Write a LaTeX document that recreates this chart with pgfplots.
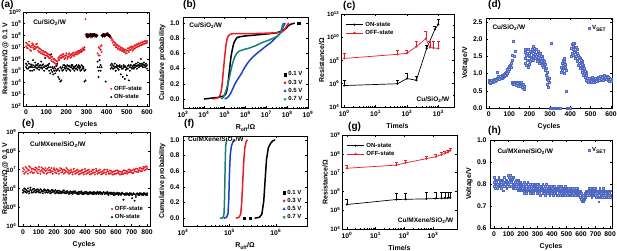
\documentclass[border=0pt]{standalone}
\usepackage{fontspec}
\setmainfont{Liberation Sans}
\usepackage{pgfplots}
\usepackage{pgfplotstable}
\pgfplotsset{compat=1.18}
\definecolor{myred}{RGB}{232,28,36}
\definecolor{myblue}{RGB}{30,64,200}
\definecolor{myteal}{RGB}{22,128,118}
\definecolor{vfill}{RGB}{160,178,228}
\definecolor{vdraw}{RGB}{80,105,195}
\newcommand{\tp}[1]{10\textsuperscript{#1}}
\tikzset{ann/.style={font=\fontsize{6.5}{7}\selectfont\bfseries, inner sep=0pt}}
\pgfplotsset{
  panel/.style={
    scale only axis, anchor=south west,
    axis line style={line width=0.7pt},
    tick align=inside,
    major tick length=2.2pt, minor tick length=1.2pt,
    tick style={black, line width=0.5pt},
    tick label style={font=\fontsize{6.8}{7}\selectfont\bfseries},
    label style={font=\fontsize{7}{8}\selectfont\bfseries},
    ylabel style={inner sep=1pt},
    /pgf/number format/assume math mode=true,
    legend style={draw=none, fill=none, font=\fontsize{6}{7}\selectfont\bfseries, inner sep=1pt, row sep=-1.5pt},
    legend cell align=left,
  },
  logy/.style={yticklabel style={font=\fontsize{6.2}{7}\selectfont\bfseries, inner sep=1.5pt}},
}
% (a) Cu/SiO2/W resistance vs cycles
\pgfplotstableread{
c off1 off2 on1 on2
0 1.2e7 2.5e7 2e5 4e5
5 2e7 9e6 3e5 1.5e5
10 8e6 1.5e7 1.5e5 6e5
15 1.5e7 3e7 4e5 2e5
20 6e6 1.2e7 2e5 1e5
25 1e7 5e6 2.5e5 3.5e5
30 2.2e7 1.4e7 1e5 2e5
35 9e6 1.8e7 3e5 8e5
40 1.3e7 7e6 2e5 1.2e5
45 7e6 1.1e7 5e5 2.5e5
50 1.8e7 9e6 1.8e5 3e5
55 1.1e7 2e7 3e5 1.5e5
60 5e6 1e7 2e5 4e5
65 8e6 4e6 1.2e5 2.5e5
70 4e6 7e6 3e5 1.8e5
75 6e6 3e6 2e5 6e5
80 3e6 5e6 1.5e5 3e5
85 5e6 2.5e6 3.5e5 2e5
90 2.5e6 4e6 2e5 1e5
95 4e6 2e6 1.2e6 2.5e5
100 2e6 3.5e6 2.5e5 1.5e5
105 3e6 1.8e6 1.5e5 3e5
110 1.5e6 2.5e6 3e5 2e5
115 2.5e6 1.2e6 1e5 4e5
120 1.2e6 2e6 2e5 6e4
125 8e5 1.5e6 1.2e5 2.5e6
130 1.5e6 6e5 8e4 2e5
135 6e5 1e6 1.5e5 5e4
140 1e6 5e5 2e5 1e5
145 4e5 8e5 6e4 1.5e5
150 7e5 3e5 1e5 2.5e5
155 3e5 6e5 4e5 1.2e5
160 8e5 1.2e6 1.5e5 3e4
165 1.5e6 8e5 2e4 1e5
170 1.2e6 2e6 1.2e4 2e5
175 2e6 1.2e6 1.5e5 1.5e4
180 1.5e6 2.5e6 2e5 1e5
185 2.5e6 1.5e6 1.2e5 3e5
190 1.8e6 1e6 3e5 1.8e5
195 1.2e6 2e6 1.5e5 2.5e5
200 2e6 3e6 2e5 1e5
205 1.5e6 1e6 3e5 1.5e5
210 2.5e6 1.5e6 1.5e5 2.5e5
215 1.8e6 3e6 2.5e5 1.2e5
220 2.2e6 1.2e6 1e5 2e5
225 1.5e6 2.5e6 2e5 3e5
230 3e6 2e6 3e5 1.5e5
235 2e6 3.5e6 1.5e5 2.2e5
240 2.5e6 1.8e6 2e5 1e5
245 3.5e6 2.5e6 2.5e5 1.5e5
250 2.5e6 4e6 1.5e5 3e5
255 4e6 2.5e6 2e5 1.2e5
260 3e6 5e6 3e5 2e5
265 5e6 3.5e6 1.5e5 2.5e5
270 4e6 6e6 2e5 1e5
275 6e6 4e6 1.2e5 3e5
280 5e6 8e6 2.5e5 1.5e5
285 8e6 6e6 1.5e5 2e5
290 6e6 1e7 1.2e4 1e5
295 2.5e9 1.2e8 1.5e4 1.2e5
300 1e8 8e7 9e7 1.3e8
305 8e7 1.4e8 1.1e8 7e7
310 1.2e8 9e7 8e7 1.2e8
315 9e7 1.1e8 1.2e8 9e7
320 1.1e8 7e7 1e8 1.4e8
325 7e7 1.3e8 9e7 1.1e8
330 1.3e8 1e8 1.2e8 8e7
335 9e7 1.2e8 1e8 1.3e8
340 1e8 8e7 1.3e8 1e8
345 8e7 1.1e8 9e7 1.2e8
350 1.2e8 9e7 1.1e8 8e7
355 3e6 1e8 2e5 6e5
360 1e7 2e6 1e5 3e4
365 2e6 8e6 8e5 2e5
370 6e6 1.2e7 3e5 1e5
375 1.5e7 4e6 1e8 2e5
380 9e7 1.2e8 1.2e8 8e7
385 1.1e8 1.4e8 1e8 1.3e8
390 8e7 1.3e8 1.2e8 9e7
395 1.3e8 1e8 1.2e4 1e8
400 1.5e8 1.2e8 1.3e8 1.1e8
405 1.2e8 1.6e8 1e8 1.4e8
410 9e7 1.2e8 1.2e8 9e7
415 1.1e8 7e7 8e7 1e8
420 6e7 8e7 3e5 1.5e5
425 4e7 6e7 2e5 4e5
430 2.5e7 4e7 3e5 1.5e5
435 3e7 1.5e7 1.5e5 2.5e5
440 1.5e7 2.5e7 4e5 2e5
445 2e7 1e7 2e5 1e5
450 1e7 1.5e7 3e5 2e5
455 1.5e7 7e6 1.5e5 2.5e5
460 8e6 1.2e7 2.5e5 1.2e5
465 1.2e7 6e6 2e5 3e5
470 6e6 9e6 5e4 2e5
475 9e6 5e6 2.5e5 1.5e5
480 5e6 7e6 1.5e5 3e4
485 7e6 4e6 3e5 2e5
490 4e6 6e6 2e4 2.5e5
495 6e6 3e6 2e5 1.2e5
500 3e6 5e6 1.5e5 4e4
505 5e6 8e6 2.5e5 1.5e5
510 8e6 4e6 1.5e4 3e5
515 6e6 1e7 2e5 1e5
520 1e7 6e6 3e5 2e5
525 7e6 1.2e7 1.5e5 6e5
530 5e6 9e6 2.5e5 2e5
535 1.2e7 7e6 3e5 1.5e5
540 8e6 1.5e7 2e5 3e5
545 1.5e7 1e7 4e5 2.5e5
550 1e7 1.8e7 2.5e5 1.5e5
555 1.8e7 1.2e7 3e5 5e5
560 1.2e7 2.2e7 2e5 3e5
565 2e7 1.4e7 4e5 2.5e5
570 1.5e7 2.5e7 3e5 1e6
575 2.5e7 1.6e7 2.5e5 4e5
580 1.8e7 3e7 3.5e5 2e5
585 3e7 2e7 3e5 5e5
590 2e7 3.5e7 2e5 3e5
595 3e7 2.2e7 4e5 2.5e5
600 2.5e7 3.5e7 3e5 1.5e5
}\tabA
% (b) cumulative probability, Cu/SiO2/W
\pgfplotstableread{
r p
1.0e4 0.00
1.5e4 0.005
2.0e4 0.01
3.0e4 0.015
4.5e4 0.02
6.5e4 0.03
9.0e4 0.04
1.1e5 0.06
1.25e5 0.10
1.4e5 0.18
1.55e5 0.28
1.7e5 0.38
1.85e5 0.47
2.0e5 0.55
2.25e5 0.63
2.5e5 0.69
2.8e5 0.74
3.3e5 0.78
4.0e5 0.81
5.5e5 0.82
1.0e6 0.83
2.5e6 0.84
6e6 0.85
1.5e7 0.86
3e7 0.87
5e7 0.89
7e7 0.91
9e7 0.93
1.1e8 0.96
1.4e8 0.98
1.8e8 0.99
2.3e8 1.00
}\tabBa
\pgfplotstableread{
r p
2.8e4 0.00
4.0e4 0.01
5.0e4 0.02
6.0e4 0.05
6.8e4 0.10
7.5e4 0.18
8.2e4 0.30
9.0e4 0.42
9.8e4 0.53
1.07e5 0.63
1.17e5 0.72
1.3e5 0.79
1.5e5 0.83
1.8e5 0.85
2.5e5 0.86
5e5 0.86
2e6 0.86
8e6 0.865
2.5e7 0.87
5.5e7 0.88
7.5e7 0.91
9e7 0.95
1.05e8 0.98
1.2e8 1.00
}\tabBb
\pgfplotstableread{
r p
1.0e5 0.00
1.2e5 0.01
1.5e5 0.03
1.9e5 0.07
2.4e5 0.13
3.0e5 0.19
3.8e5 0.24
5.0e5 0.29
6.5e5 0.34
8.5e5 0.40
1.1e6 0.45
1.5e6 0.50
2.2e6 0.55
3.5e6 0.60
6e6 0.65
1e7 0.70
1.6e7 0.74
2.5e7 0.79
3.5e7 0.83
4.8e7 0.87
6e7 0.93
7e7 0.97
8e7 1.00
}\tabBc
\pgfplotstableread{
r p
7e4 0.00
8.5e4 0.02
1.0e5 0.06
1.2e5 0.12
1.4e5 0.19
1.65e5 0.27
1.9e5 0.35
2.2e5 0.43
2.6e5 0.50
3.1e5 0.56
3.8e5 0.60
5e5 0.63
8e5 0.65
1.5e6 0.67
3e6 0.70
6e6 0.74
1.2e7 0.77
2.2e7 0.80
3.5e7 0.83
4.8e7 0.87
5.5e7 0.93
6e7 0.97
6.5e7 1.00
}\tabBd
% (c) retention, Cu/SiO2/W
\pgfplotstableread{
t r e
1 7e5 1.3e6
50 1e6 1e6
100 2.8e6 5e6
200 2e6 2e6
425 1.1e9 1.1e9
780 4.8e10 4.5e10
1000 1.3e11 2.3e11
}\tabCon
\pgfplotstableread{
t r e
1 1.5e8 2.7e8
50 3.4e8 4.6e8
100 4.2e8 3.8e8
200 1.6e9 2.9e9
400 7.6e9 2.4e10
540 1.3e9 3.2e9
700 1.2e9 3.3e9
1000 1.1e9 3.4e9
}\tabCoff
% (d) VSET Cu/SiO2/W
\pgfplotstableread{
c v1 v2
0 0.75 0.80
4 0.72 0.78
8 0.78 0.74
12 0.76 0.82
16 0.80 0.75
20 0.74 0.79
24 0.78 0.83
28 0.82 0.77
32 0.79 0.85
36 0.84 0.80
40 0.88 1.03
44 0.83 0.87
48 0.86 0.92
52 0.90 0.84
56 0.87 0.93
60 0.92 0.88
64 0.95 0.86
68 0.89 0.97
72 0.94 0.91
76 0.98 0.93
80 1.00 0.95
84 0.96 1.05
88 1.08 1.00
92 1.05 1.12
96 1.15 1.08
100 1.12 1.22
104 1.25 1.18
108 1.30 1.20
112 0.75 1.40
116 1.55 0.72
120 1.95 0.70
124 1.50 0.68
128 0.74 1.65
132 0.70 0.66
136 0.72 0.75
140 0.68 0.73
144 0.71 0.65
148 0.74 0.69
152 0.66 0.72
156 0.70 0.64
160 0.63 0.75
164 0.68 0.60
168 0.58 0.70
172 0.65 0.55
176 1.30 1.62
180 1.45 1.70
184 1.25 1.55
188 1.60 1.38
192 1.72 1.20
196 1.40 1.55
200 1.50 1.28
204 1.35 1.65
208 1.62 1.42
212 1.48 1.70
216 1.80 1.52
220 1.55 1.38
224 1.65 1.75
228 1.45 1.58
232 1.70 1.50
236 1.58 1.35
240 1.62 1.48
244 1.40 1.66
248 1.55 1.30
252 1.45 1.60
256 1.35 1.52
260 1.50 1.25
264 1.28 1.45
268 1.40 1.18
272 1.20 1.35
276 1.10 1.28
280 0.95 1.15
284 0.85 1.05
288 0.70 0.90
292 0.60 0.80
296 0.75 0.88
300 0.00 0.00
304 1.90 0.00
308 0.00 0.00
312 0.00 0.00
316 0.00 0.00
320 0.00 0.00
324 0.00 0.00
328 0.00 0.00
332 0.00 0.00
336 0.00 0.00
340 0.00 0.00
344 0.00 0.00
348 0.00 0.00
352 0.00 0.00
356 1.05 1.20
360 1.30 1.10
364 1.25 1.40
368 1.15 1.35
372 1.45 1.00
376 1.28 1.20
380 1.10 0.50
384 0.00 0.00
388 0.00 0.00
392 0.00 0.00
396 0.00 0.00
400 0.00 0.00
404 1.75 1.50
408 1.85 1.60
412 1.70 1.90
416 1.55 1.80
420 1.88 1.62
424 1.65 1.45
428 1.50 1.78
432 1.72 1.35
436 1.40 1.60
440 1.55 1.25
444 1.30 1.48
448 1.45 1.15
452 1.20 1.38
456 1.35 1.05
460 1.10 1.28
464 1.25 0.95
468 1.00 1.15
472 0.90 1.08
476 1.05 0.82
480 0.85 0.95
484 0.78 0.88
488 0.82 0.75
492 0.76 0.86
496 0.88 0.80
500 0.80 0.75
504 0.85 0.78
508 0.78 0.90
512 0.82 0.76
516 0.75 0.84
520 0.86 0.79
524 0.80 0.88
528 0.84 0.77
532 0.78 0.85
536 0.90 0.81
540 0.82 0.87
544 0.87 0.80
548 0.80 0.92
552 0.92 0.84
556 0.85 0.90
560 0.88 0.82
564 0.83 0.95
568 0.95 0.86
572 0.86 0.90
576 0.90 0.84
580 0.84 0.92
584 0.88 0.80
588 0.82 0.90
592 0.86 0.78
596 0.80 0.84
600 0.83 0.79
}\tabD
% (e) Cu/MXene/SiO2/W resistance vs cycles
\pgfplotstableread{
c off1 off2 on1 on2
0 8e6 1.2e7 8e5 6e5
8 1e7 6e6 7e5 1e6
16 7e6 1.4e7 9e5 6.5e5
24 1.2e7 8e6 6e5 8e5
32 6e6 1e7 1e6 7e5
40 9e6 1.5e7 7e5 5.5e5
48 1.3e7 7e6 8.5e5 1.1e6
56 8e6 1.1e7 6e5 7.5e5
64 1.1e7 6.5e6 9e5 6e5
72 7e6 1e7 7e5 9.5e5
80 9.5e6 1.3e7 8e5 6e5
88 1.2e7 8e6 6.5e5 8.5e5
96 6.5e6 1e7 9e5 7e5
104 1e7 1.4e7 7.5e5 6e5
112 8e6 6e6 6e5 9e5
120 1.3e7 9e6 8e5 7e5
128 7.5e6 1.1e7 7e5 5.5e5
136 1e7 6.5e6 9e5 7.5e5
144 8.5e6 1.2e7 6e5 8e5
152 6e6 9e6 7.5e5 6.5e5
160 1.1e7 7e6 8.5e5 6e5
168 9e6 1.3e7 6.5e5 7.5e5
176 7e6 9.5e6 7e5 5.5e5
184 1.2e7 8e6 6e5 8e5
192 8e6 6e6 8e5 6.5e5
200 1e7 1.2e7 6.5e5 7e5
208 7e6 9e6 5.5e5 8e5
216 1.1e7 6.5e6 7e5 6e5
224 8e6 1e7 6e5 7.5e5
232 6e6 8.5e6 7.5e5 5.5e5
240 9e6 1.2e7 6e5 7e5
248 1.1e7 7e6 5.5e5 6.5e5
256 7.5e6 9.5e6 7e5 6e5
264 6e6 1e7 6e5 8e5
272 9e6 7e6 6.5e5 5.5e5
280 1.2e7 8e6 5.5e5 7e5
288 7e6 1e7 7e5 6e5
296 8.5e6 6e6 6e5 5e5
304 6.5e6 9e6 5.5e5 7e5
312 1e7 7.5e6 6.5e5 5.5e5
320 7e6 5.5e6 5e5 6.5e5
328 8e6 1.1e7 6e5 7e5
336 6e6 8e6 7e5 5.5e5
344 9e6 6.5e6 5.5e5 6e5
352 7e6 1e7 6e5 5e5
360 5.5e6 8e6 5e5 6.5e5
368 8.5e6 6e6 6.5e5 5.5e5
376 6.5e6 9e6 5.5e5 7e5
384 1e7 7e6 6e5 5e5
392 7e6 5.5e6 5e5 6e5
400 8e6 1.1e7 6.5e5 5.5e5
408 6e6 8.5e6 5.5e5 6.5e5
416 9e6 6.5e6 6e5 5e5
424 7e6 1e7 5e5 6e5
432 5.5e6 8e6 6.5e5 5.5e5
440 8e6 6e6 5.5e5 6e5
448 6.5e6 9.5e6 6e5 5e5
456 1e7 7e6 5e5 6.5e5
464 7e6 5.5e6 5.5e5 6e5
472 8.5e6 1.1e7 6e5 5e5
480 6e6 8e6 6.5e5 5.5e5
488 9e6 6.5e6 5e5 6e5
496 7e6 1e7 5.5e5 6.5e5
504 5.5e6 7.5e6 6e5 5e5
512 8e6 6e6 5e5 5.5e5
520 6.5e6 9e6 6.5e5 6e5
528 1e7 7e6 5.5e5 5e5
536 7e6 5.5e6 6e5 5.5e5
544 8.5e6 1e7 5e5 6.5e5
552 6e6 7.5e6 5.5e5 4.5e5
560 9e6 6e6 6e5 5.5e5
568 6.5e6 8.5e6 5e5 6e5
576 7.5e6 5.5e6 5.5e5 5e5
584 5.5e6 8e6 6e5 4.5e5
592 8e6 6e6 4.5e5 5.5e5
600 6e6 9e6 5.5e5 5e5
608 9e6 6.5e6 5e5 6e5
616 6.5e6 8e6 4.5e5 5.5e5
624 8e6 5.5e6 5.5e5 5e5
632 5.5e6 7.5e6 5e5 4.5e5
640 7.5e6 6e6 6e5 5.5e5
648 6e6 9e6 2.5e5 5e5
656 9e6 6.5e6 5e5 4.5e5
664 6.5e6 8.5e6 4.5e5 5.5e5
672 8e6 6e6 5.5e5 5e5
680 7e6 1e7 5e5 4.5e5
688 1e7 7.5e6 4.5e5 5.5e5
696 7.5e6 9e6 5.5e5 5e5
704 9e6 6.5e6 3e5 4.5e5
712 6.5e6 1e7 5e5 5.5e5
720 1e7 8e6 2.2e5 5e5
728 8e6 1.1e7 4.5e5 3.5e5
736 1.1e7 7.5e6 5.5e5 5e5
744 7.5e6 9.5e6 5e5 4.5e5
752 9e6 1.2e7 4.5e5 5.5e5
760 1.2e7 8e6 5.5e5 5e5
768 8.5e6 1.1e7 5e5 4.5e5
776 1.1e7 1.4e7 4.5e5 5.5e5
784 1.3e7 9e6 5.5e5 5e5
792 1e7 1.5e7 5e5 4.5e5
800 1.4e7 1.1e7 4.5e5 5.5e5
}\tabE
% (f) cumulative probability, Cu/MXene/SiO2/W
\pgfplotstableread{
r p
3.5e5 0.00
4.4e5 0.01
5.0e5 0.05
5.5e5 0.22
5.9e5 0.50
6.3e5 0.75
6.9e5 0.90
7.8e5 0.96
8.7e5 0.99
9.7e5 1.00
}\tabFa
\pgfplotstableread{
r p
1.38e5 0.00
1.6e5 0.01
1.75e5 0.05
1.85e5 0.22
1.95e5 0.50
2.05e5 0.75
2.15e5 0.90
2.3e5 0.98
2.45e5 1.00
}\tabFb
\pgfplotstableread{
r p
7.6e4 0.00
8.6e4 0.01
9.3e4 0.05
9.7e4 0.25
1.0e5 0.55
1.04e5 0.80
1.1e5 0.92
1.2e5 0.98
1.3e5 1.00
}\tabFc
\pgfplotstableread{
r p
6.2e4 0.00
7.0e4 0.00
7.5e4 0.02
7.7e4 0.08
7.85e4 0.25
8.0e4 0.50
8.15e4 0.75
8.3e4 0.92
8.6e4 0.98
8.9e4 1.00
}\tabFd
% (g) retention, Cu/MXene/SiO2/W
\pgfplotstableread{
t r e
1 2e5 1.6e5
53 3.7e5 4.6e5
112 3.8e5 4.5e5
590 4e5 4.5e5
1260 4.2e5 4.5e5
2000 4.3e5 4.7e5
2600 4.4e5 4.8e5
3300 4.5e5 4.8e5
4000 4.6e5 4.8e5
}\tabGon
\pgfplotstableread{
t r e
1 1.7e7 0.8e7
53 2.5e7 1e7
112 3.3e7 1.2e7
590 5.5e7 2e7
1260 7e7 2.5e7
2000 9e7 3e7
2600 1.05e8 3.5e7
3300 1.2e8 4e7
4000 1.5e8 5e7
}\tabGoff
% (h) VSET Cu/MXene/SiO2/W
\pgfplotstableread{
c v1 v2 v3
0 0.81 0.79 0.83
8 0.80 0.82 0.78
16 0.79 0.81 0.80
24 0.82 0.78 0.80
32 0.80 0.83 0.79
40 0.81 0.79 0.82
48 0.78 0.81 0.80
56 0.82 0.80 0.79
64 0.80 0.77 0.81
72 0.81 0.83 0.79
80 0.79 0.81 0.82
88 0.82 0.80 0.78
96 0.80 0.84 0.81
104 0.83 0.79 0.81
112 0.81 0.82 0.84
120 0.79 0.81 0.83
128 0.82 0.80 0.78
136 0.80 0.83 0.79
144 0.81 0.78 0.80
152 0.79 0.82 0.80
160 0.80 0.78 0.81
168 0.82 0.79 0.77
176 0.78 0.80 0.81
184 0.79 0.81 0.77
192 0.80 0.78 0.79
200 0.77 0.80 0.79
208 0.79 0.76 0.81
216 0.78 0.80 0.77
224 0.80 0.78 0.76
232 0.77 0.79 0.81
240 0.79 0.77 0.78
248 0.78 0.80 0.76
256 0.76 0.78 0.79
264 0.79 0.77 0.80
272 0.78 0.80 0.76
280 0.80 0.77 0.79
288 0.77 0.79 0.78
296 0.79 0.76 0.80
304 0.78 0.80 0.77
312 0.76 0.78 0.79
320 0.79 0.77 0.75
328 0.77 0.79 0.78
336 0.78 0.76 0.80
344 0.76 0.78 0.77
352 0.79 0.77 0.75
360 0.77 0.80 0.78
368 0.78 0.76 0.77
376 0.76 0.79 0.78
384 0.78 0.77 0.75
392 0.77 0.79 0.76
400 0.79 0.76 0.78
408 0.77 0.78 0.75
416 0.76 0.79 0.77
424 0.78 0.76 0.78
432 0.77 0.78 0.75
440 0.75 0.77 0.79
448 0.78 0.76 0.77
456 0.77 0.78 0.75
464 0.76 0.79 0.77
472 0.78 0.75 0.77
480 0.77 0.78 0.76
488 0.75 0.77 0.79
496 0.78 0.76 0.77
504 0.76 0.78 0.75
512 0.77 0.75 0.78
520 0.78 0.76 0.77
528 0.76 0.78 0.75
536 0.77 0.75 0.78
544 0.75 0.77 0.76
552 0.78 0.76 0.77
560 0.76 0.77 0.75
568 0.77 0.75 0.78
576 0.76 0.78 0.76
584 0.75 0.77 0.76
592 0.76 0.74 0.77
600 0.74 0.76 0.73
608 0.73 0.75 0.72
616 0.74 0.72 0.75
624 0.75 0.73 0.76
632 0.76 0.74 0.77
640 0.77 0.75 0.76
648 0.75 0.77 0.76
656 0.76 0.78 0.75
664 0.77 0.75 0.78
672 0.76 0.78 0.74
680 0.77 0.75 0.76
688 0.75 0.77 0.78
696 0.78 0.76 0.75
704 0.76 0.74 0.77
712 0.77 0.75 0.76
720 0.74 0.77 0.72
728 0.76 0.74 0.78
736 0.75 0.77 0.76
744 0.77 0.75 0.74
752 0.76 0.78 0.75
760 0.74 0.76 0.77
768 0.77 0.75 0.76
776 0.75 0.77 0.74
784 0.76 0.74 0.77
792 0.77 0.75 0.76
800 0.75 0.77 0.74
}\tabH
\begin{document}
\begin{tikzpicture}
\path[use as bounding box] (0,0) rectangle (617pt,251pt);
\tikzset{pl/.style={font=\fontsize{10}{12}\selectfont\bfseries, anchor=base west, inner sep=0pt}}
\node[pl] at (1pt,243pt) {(a)};
\node[pl] at (183pt,243pt) {(b)};
\node[pl] at (343pt,242pt) {(c)};
\node[pl] at (488pt,243pt) {(d)};
\node[pl] at (22pt,124pt) {(e)};
\node[pl] at (184pt,124pt) {(f)};
\node[pl] at (348pt,121pt) {(g)};
\node[pl] at (488pt,117pt) {(h)};

% ---------- (a)
\begin{axis}[panel, logy, at={(23pt,145pt)}, width=126pt, height=94pt,
  xmin=-15, xmax=610, ymode=log, ymin=1e2, ymax=1e10,
  xtick={0,100,...,600}, minor x tick num=1,
  ytick={1e2,1e3,1e4,1e5,1e6,1e7,1e8,1e9,1e10},
  yticklabels={\tp{2},\tp{3},\tp{4},\tp{5},\tp{6},\tp{7},\tp{8},\tp{9},\tp{10}},
  yminorticks=false,
  xlabel={Cycles}, ylabel={Resistance/Ω @ 0.1 V},
  ylabel style={at={(axis description cs:-0.14,0.5)}, anchor=center},
  legend style={at={(0.97,0.03)}, anchor=south east}]
\addplot[only marks, mark=*, mark size=0.75pt, color=myred] table[x=c,y=off1]{\tabA};
\addlegendentry{OFF-state}
\addplot[only marks, mark=*, mark size=0.75pt, color=myred, forget plot] table[x=c,y=off2]{\tabA};
\addplot[only marks, mark=*, mark size=0.75pt, color=black] table[x=c,y=on1]{\tabA};
\addlegendentry{ON-state}
\addplot[only marks, mark=*, mark size=0.75pt, color=black, forget plot] table[x=c,y=on2]{\tabA};
\node[ann, anchor=north west] at (rel axis cs:0.08,0.92) {Cu/SiO\textsubscript{2}/W};
\end{axis}

% ---------- (b)
\begin{axis}[panel, at={(183pt,143pt)}, width=125pt, height=91pt,
  xmode=log, xmin=1e3, xmax=1e9, ymin=-0.118, ymax=1.079,
  xtick={1e3,1e4,1e5,1e6,1e7,1e8,1e9},
  xticklabels={\tp{3},\tp{4},\tp{5},\tp{6},\tp{7},\tp{8},\tp{9}},
  ytick={0,0.2,...,1.0},
  yticklabel style={/pgf/number format/.cd, fixed, fixed zerofill, precision=1},
  xlabel={R\textsubscript{off}/Ω}, ylabel={Cumulative probability},
  legend style={at={(0.98,0.03)}, anchor=south east}]
\addlegendimage{only marks, mark=square*, black, mark size=1.1pt}
\addlegendentry{0.1 V}
\addlegendimage{only marks, mark=*, myred, mark size=1.2pt}
\addlegendentry{0.3 V}
\addlegendimage{only marks, mark=triangle*, myblue, mark size=1.4pt}
\addlegendentry{0.5 V}
\addlegendimage{only marks, mark=triangle*, mark options={rotate=180}, myteal, mark size=1.4pt}
\addlegendentry{0.7 V}
\addplot[black, line width=1.5pt, forget plot] table[x=r,y=p]{\tabBa};
\addplot[only marks, mark=square*, mark size=1.1pt, black, forget plot] coordinates {(3.6e8,1.0)};
\addplot[myred, line width=1.5pt, forget plot] table[x=r,y=p]{\tabBb};
\addplot[myblue, line width=1.5pt, forget plot] table[x=r,y=p]{\tabBc};
\addplot[myteal, line width=1.5pt, forget plot] table[x=r,y=p]{\tabBd};
\node[ann, anchor=north west] at (rel axis cs:0.05,0.94) {Cu/SiO\textsubscript{2}/W};
\end{axis}

% ---------- (c)
\begin{axis}[panel, logy, at={(341pt,144pt)}, width=113pt, height=93pt,
  xmode=log, ymode=log, xmin=0.79, xmax=3162, ymin=1e4, ymax=1e12,
  xtick={1,10,100,1000}, xticklabels={\tp{0},\tp{1},\tp{2},\tp{3}},
  ytick={1e4,1e6,1e8,1e10,1e12}, yticklabels={\tp{4},\tp{6},\tp{8},\tp{10},\tp{12}},
  minor ytick={1e5,1e7,1e9,1e11},
  xlabel={Time/s}, ylabel={Resistance/Ω},
  legend style={at={(0.03,0.95)}, anchor=north west}]
\addplot[black, line width=0.7pt, mark=*, mark size=0.7pt,
  error bars/.cd, y dir=plus, y explicit, error bar style={line width=0.5pt},
  error mark options={rotate=90, mark size=1.5pt, line width=0.5pt}]
  table[x=t,y=r,y error=e]{\tabCon};
\addlegendentry{ON-state}
\addplot[myred, line width=0.7pt, mark=*, mark size=0.7pt,
  error bars/.cd, y dir=plus, y explicit, error bar style={line width=0.5pt},
  error mark options={rotate=90, mark size=1.5pt, line width=0.5pt}]
  table[x=t,y=r,y error=e]{\tabCoff};
\addlegendentry{OFF-state}
\node[ann, anchor=south east] at (rel axis cs:0.96,0.05) {Cu/SiO\textsubscript{2}/W};
\end{axis}

% ---------- (d)
\begin{axis}[panel, at={(486pt,143pt)}, width=126pt, height=90pt,
  xmin=-14, xmax=605, ymin=0, ymax=2.62,
  xtick={0,100,...,600}, minor x tick num=1,
  ytick={0,0.5,...,2.5},
  yticklabel style={/pgf/number format/.cd, fixed, fixed zerofill, precision=1},
  xlabel={Cycles}, ylabel={Voltage/V},
  legend style={at={(0.98,0.95)}, anchor=north east}]
\addplot[only marks, mark=square*, mark size=1.0pt, mark options={fill=vfill, draw=vdraw, line width=0.3pt}] table[x=c,y=v1]{\tabD};
\addlegendentry{V\textsubscript{SET}}
\addplot[only marks, mark=square*, mark size=1.0pt, mark options={fill=vfill, draw=vdraw, line width=0.3pt}, forget plot] table[x=c,y=v2]{\tabD};
\node[ann, anchor=north west] at (rel axis cs:0.05,0.93) {Cu/SiO\textsubscript{2}/W};
\end{axis}

% ---------- (e)
\begin{axis}[panel, logy, at={(18pt,25pt)}, width=132pt, height=94pt,
  xmin=-32, xmax=819, ymode=log, ymin=1e4, ymax=1e9,
  xtick={0,100,...,800}, minor x tick num=1,
  ytick={1e4,1e5,1e6,1e7,1e8,1e9},
  yticklabels={\tp{4},\tp{5},\tp{6},\tp{7},\tp{8},\tp{9}},
  yminorticks=false,
  xlabel={Cycles}, ylabel={Resistance/Ω @ 0.1 V},
  ylabel style={at={(axis description cs:-0.098,0.5)}, anchor=center},
  legend style={at={(0.97,0.03)}, anchor=south east}]
\addplot[only marks, mark=*, mark size=0.75pt, color=myred] table[x=c,y=off1]{\tabE};
\addlegendentry{OFF-state}
\addplot[only marks, mark=*, mark size=0.75pt, color=myred, forget plot] table[x=c,y=off2]{\tabE};
\addplot[only marks, mark=*, mark size=0.75pt, color=black] table[x=c,y=on1]{\tabE};
\addlegendentry{ON-state}
\addplot[only marks, mark=*, mark size=0.75pt, color=black, forget plot] table[x=c,y=on2]{\tabE};
\node[ann, anchor=north west] at (rel axis cs:0.09,0.9) {Cu/MXene/SiO\textsubscript{2}/W};
\end{axis}

% ---------- (f)
\begin{axis}[panel, at={(183pt,25pt)}, width=124pt, height=90pt,
  xmode=log, xmin=1e4, xmax=4.7e6, ymin=-0.10, ymax=1.05,
  xtick={1e4,1e5,1e6}, xticklabels={\tp{4},\tp{5},\tp{6}},
  ytick={0,0.2,...,1.0},
  yticklabel style={/pgf/number format/.cd, fixed, fixed zerofill, precision=1},
  xlabel={R\textsubscript{off}/Ω}, ylabel={Cumulative probability},
  legend style={at={(0.98,0.03)}, anchor=south east}]
\addlegendimage{only marks, mark=square*, black, mark size=1.1pt}
\addlegendentry{0.1 V}
\addlegendimage{only marks, mark=*, myred, mark size=1.2pt}
\addlegendentry{0.3 V}
\addlegendimage{only marks, mark=triangle*, myblue, mark size=1.4pt}
\addlegendentry{0.5 V}
\addlegendimage{only marks, mark=triangle*, mark options={rotate=180}, myteal, mark size=1.4pt}
\addlegendentry{0.7 V}
\addplot[only marks, mark=square*, mark size=1.1pt, black, forget plot] coordinates {(2.1e5,0) (2.8e5,0)};
\addplot[black, line width=1.5pt, forget plot] table[x=r,y=p]{\tabFa};
\addplot[myred, line width=1.5pt, forget plot] table[x=r,y=p]{\tabFb};
\addplot[myblue, line width=1.5pt, forget plot] table[x=r,y=p]{\tabFc};
\addplot[myteal, line width=1.5pt, forget plot] table[x=r,y=p]{\tabFd};
\node[ann, anchor=north west] at (rel axis cs:0.04,0.99) {Cu/MXene/SiO\textsubscript{2}/W};
\end{axis}

% ---------- (g)
\begin{axis}[panel, logy, at={(342pt,22pt)}, width=115pt, height=94pt,
  xmode=log, ymode=log, xmin=0.676, xmax=6918, ymin=1e4, ymax=1e9,
  xtick={1,10,100,1000}, xticklabels={\tp{0},\tp{1},\tp{2},\tp{3}},
  ytick={1e4,1e5,1e6,1e7,1e8,1e9}, yticklabels={\tp{4},\tp{5},\tp{6},\tp{7},\tp{8},\tp{9}},
  yminorticks=false,
  xlabel={Time/s}, ylabel={Resistance/Ω},
  legend style={at={(0.03,0.95)}, anchor=north west}]
\addplot[black, line width=0.7pt, mark=*, mark size=0.7pt,
  error bars/.cd, y dir=plus, y explicit, error bar style={line width=0.5pt},
  error mark options={rotate=90, mark size=1.5pt, line width=0.5pt}]
  table[x=t,y=r,y error=e]{\tabGon};
\addlegendentry{ON-state}
\addplot[myred, line width=0.7pt, mark=*, mark size=0.7pt,
  error bars/.cd, y dir=plus, y explicit, error bar style={line width=0.5pt},
  error mark options={rotate=90, mark size=1.5pt, line width=0.5pt}]
  table[x=t,y=r,y error=e]{\tabGoff};
\addlegendentry{OFF-state}
\node[ann, anchor=south east] at (rel axis cs:0.97,0.06) {Cu/MXene/SiO\textsubscript{2}/W};
\end{axis}

% ---------- (h)
\begin{axis}[panel, at={(490pt,23pt)}, width=122pt, height=88pt,
  xmin=-27, xmax=813, ymin=0.6, ymax=1.0,
  xtick={0,100,...,800}, minor x tick num=1,
  ytick={0.6,0.7,0.8,0.9,1.0},
  yticklabel style={/pgf/number format/.cd, fixed, fixed zerofill, precision=1},
  xlabel={Cycles}, ylabel={Voltage/V},
  legend style={at={(0.98,0.95)}, anchor=north east}]
\addplot[only marks, mark=square*, mark size=0.85pt, mark options={fill=vfill, draw=vdraw, line width=0.25pt}] table[x=c,y=v1]{\tabH};
\addlegendentry{V\textsubscript{SET}}
\addplot[only marks, mark=square*, mark size=0.85pt, mark options={fill=vfill, draw=vdraw, line width=0.25pt}, forget plot] table[x=c,y=v2]{\tabH};
\addplot[only marks, mark=square*, mark size=0.85pt, mark options={fill=vfill, draw=vdraw, line width=0.25pt}, forget plot] table[x=c,y=v3]{\tabH};
\node[ann, anchor=north west] at (rel axis cs:0.06,0.9) {Cu/MXene/SiO\textsubscript{2}/W};
\end{axis}
\end{tikzpicture}
\end{document}
